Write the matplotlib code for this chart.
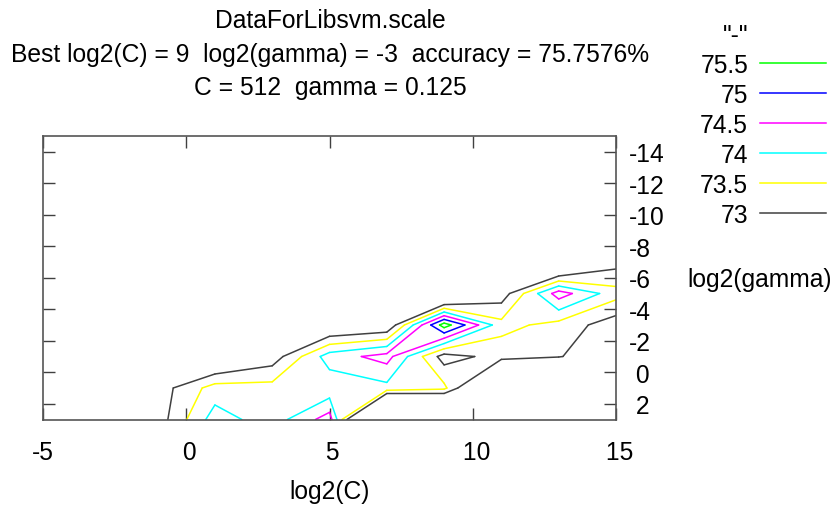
import numpy as np
import matplotlib
matplotlib.use("Agg")
import matplotlib.pyplot as plt
from matplotlib.collections import LineCollection
from matplotlib.lines import Line2D

plt.rcParams['font.family'] = ['Liberation Sans', 'DejaVu Sans']

# grid search: log2(C) across, log2(gamma) down, cross-validation accuracy [%]
log2c = np.arange(-5, 16, 2)
log2g = np.arange(3, -16, -2)
accuracy = np.array([
    [70.9, 72.1, 72.73, 74.24, 73.73, 74.75, 69.0, 70.0, 68.2, 67.0, 66.1],    # g = 3
    [70.6, 71.8, 72.73, 73.72, 73.69, 73.65, 73.85, 73.63, 71.0, 70.0, 69.1],  # g = 1
    [69.7, 70.9, 72.0, 72.1, 72.71, 74.25, 74.7, 72.77, 73.2, 73.05, 72.38],   # g = -1
    [68.2, 69.1, 70.0, 71.0, 71.5, 72.3, 72.5, 75.7576, 73.67, 73.32, 72.7],   # g = -3
    [66.1, 67.0, 68.2, 69.1, 70.0, 70.5, 71.0, 71.5, 72.71, 74.75, 73.7],      # g = -5
    [65.2, 65.5, 66.1, 67.0, 68.2, 69.1, 70.0, 70.6, 70.0, 71.6, 72.8],        # g = -7
    [65.2, 65.2, 65.5, 66.1, 67.0, 68.2, 69.1, 70.0, 70.3, 70.6, 71.2],        # g = -9
    [65.2, 65.2, 65.2, 65.5, 66.1, 67.0, 68.2, 69.1, 70.0, 70.3, 70.6],        # g = -11
    [65.2, 65.2, 65.2, 65.2, 65.5, 66.1, 67.0, 68.2, 69.1, 70.0, 70.3],        # g = -13
    [65.2, 65.2, 65.2, 65.2, 65.2, 65.5, 66.1, 67.0, 68.2, 69.1, 70.0],        # g = -15
])

levels = [73.0, 73.5, 74.0, 74.5, 75.0, 75.5]
level_labels = ['73', '73.5', '74', '74.5', '75', '75.5']
level_colors = ['#404040', '#ffff00', '#00ffff', '#ff00ff', '#0000ff', '#00ff00']

best_log2c, best_log2g, best_rate = 9, -3, 75.7576
title = "DataForLibsvm.scale"

xticks = [-5, 0, 5, 10, 15]
yticks = list(range(-14, 3, 2))

W, H = 832, 506
FS = 17.7


def fx(px):
    return px / W


def fy(py):
    return 1 - py / H


def gp_fmt(v):
    # gnuplot "% h": leading blank where the minus sign would go
    return f"{v}" if v < 0 else f" {v}"


def contour_segments(x, y, z, level):
    """Marching squares; saddle cells keep the two high corners joined, like gnuplot."""
    segs = []
    for j in range(len(y) - 1):
        for i in range(len(x) - 1):
            corners = [(j, i), (j, i + 1), (j + 1, i + 1), (j + 1, i)]
            vals = [z[c] for c in corners]
            high = [v >= level for v in vals]
            cross = {}
            for k in range(4):
                k2 = (k + 1) % 4
                if high[k] != high[k2]:
                    (ja, ia), (jb, ib) = corners[k], corners[k2]
                    t = (level - vals[k]) / (vals[k2] - vals[k])
                    cross[k] = (x[ia] + t * (x[ib] - x[ia]), y[ja] + t * (y[jb] - y[ja]))
            if len(cross) == 2:
                segs.append(list(cross.values()))
            elif len(cross) == 4:
                for k in range(4):
                    if not high[k]:
                        segs.append([cross[(k - 1) % 4], cross[k]])
    return segs


fig = plt.figure(figsize=(W / 100, H / 100), dpi=100)
ax = fig.add_axes([fx(43), fy(420.5), (616 - 43) / W, (420.5 - 137) / H])

for lev, col in zip(levels, level_colors):
    segs = contour_segments(log2c, log2g, accuracy, lev)
    ax.add_collection(LineCollection(segs, colors=col, linewidths=1.1, capstyle='round'))

ax.set_xlim(-5, 15)
ax.set_ylim(3, -15)

ax.set_xticks(xticks)
ax.set_xticklabels([gp_fmt(v) for v in xticks])
ax.set_yticks(yticks)
ax.set_yticklabels([gp_fmt(v) for v in yticks])
ax.tick_params(axis='x', direction='in', top=True, bottom=True, length=8.5, width=1,
               color='#404040', pad=15, labelsize=FS)
ax.tick_params(axis='y', direction='in', left=True, right=True, labelleft=False,
               labelright=True, length=8.5, width=1, color='#404040', pad=9.4, labelsize=FS)
for lab in ax.get_yticklabels():
    lab.set_horizontalalignment('left')
for s in ax.spines.values():
    s.set_color('#555555')
    s.set_linewidth(1.2)

# titles / labels
fig.text(fx(330), fy(28.5), title, ha='center', va='baseline', fontsize=FS)
fig.text(fx(330), fy(62), f"Best log2(C) = {best_log2c}  log2(gamma) = {best_log2g}  "
         f"accuracy = {best_rate}%", ha='center', va='baseline', fontsize=FS)
fig.text(fx(330), fy(94.5), f"C = {2 ** best_log2c}  gamma = {2.0 ** best_log2g}",
         ha='center', va='baseline', fontsize=FS)
fig.text(fx(330), fy(499), "log2(C)", ha='center', va='baseline', fontsize=FS)
fig.text(fx(687), fy(287), "log2(gamma)", ha='left', va='baseline', fontsize=FS)

# gnuplot style key: label on the left, sample line on the right
key_entries = [('"-"', None)] + list(zip(level_labels[::-1], level_colors[::-1]))
for k, (lab, col) in enumerate(key_entries):
    base = 43.3 + 30 * k
    fig.text(fx(748), fy(base), lab, ha='right', va='baseline', fontsize=FS)
    if col is not None:
        fig.add_artist(Line2D([fx(760), fx(826)], [fy(base - 9.3)] * 2,
                              transform=fig.transFigure, color=col, lw=1.1))

fig.savefig("out.png", dpi=100)
